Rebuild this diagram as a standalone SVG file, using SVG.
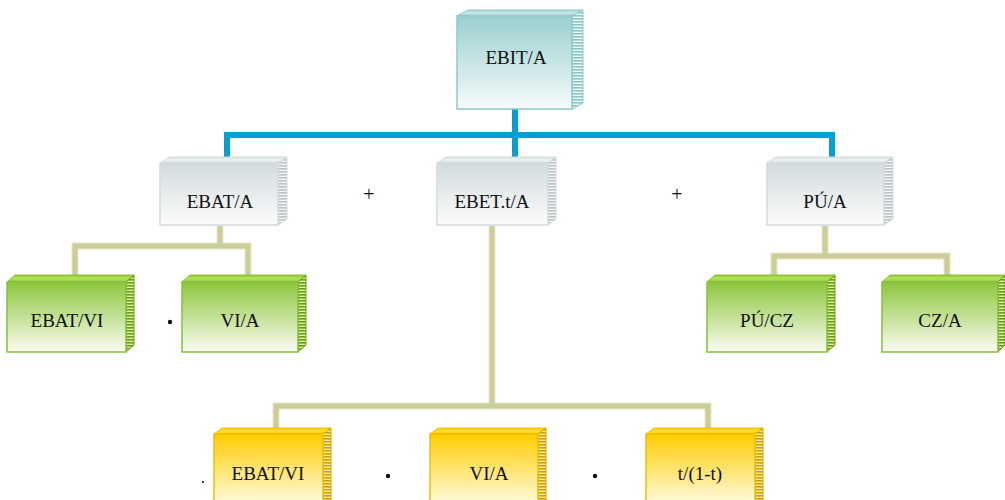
<svg xmlns="http://www.w3.org/2000/svg" width="1005" height="500" viewBox="0 0 1005 500">
<style>
text{font-family:'Liberation Serif','Times New Roman',Times,Tinos,'Nimbus Roman','Nimbus Roman No9 L',FreeSerif,'Noto Serif','DejaVu Serif',serif;font-size:19px;fill:#111;text-anchor:middle}
.op{font-size:20px}
.teal .f{fill:url(#gTeal);stroke:#8fc9c9;stroke-width:1.5}
.teal .t{fill:url(#tTeal);stroke:#8fc9c9;stroke-width:1}
.teal .s{fill:url(#pTeal);stroke:#8fc9c9;stroke-width:1}
.gray .f{fill:url(#gGray);stroke:#d3dbdd;stroke-width:1.5}
.gray .t{fill:url(#tGray);stroke:#d3dbdd;stroke-width:1}
.gray .s{fill:url(#pGray);stroke:#d3dbdd;stroke-width:1}
.green .f{fill:url(#gGreen);stroke:#86c13a;stroke-width:1.5}
.green .t{fill:url(#tGreen);stroke:#86c13a;stroke-width:1}
.green .s{fill:url(#pGreen);stroke:#6f9e1e;stroke-width:1}
.yellow .f{fill:url(#gYellow);stroke:#f0c000;stroke-width:1.5}
.yellow .t{fill:url(#tYellow);stroke:#f0c000;stroke-width:1}
.yellow .s{fill:url(#pYellow);stroke:#d4a400;stroke-width:1}
.blue{fill:none;stroke:#0a9ed2;stroke-width:6}
.khakiB{fill:none;stroke:#e6e6cc;stroke-width:7}
.khaki{fill:none;stroke:#cdcd99;stroke-width:5}
</style>
<defs>
<linearGradient id="gTeal" x1="0" y1="0" x2="0" y2="1"><stop offset="0" stop-color="#9acfcf"/><stop offset="1" stop-color="#f6fbfb"/></linearGradient>
<linearGradient id="gGray" x1="0" y1="0" x2="0" y2="1"><stop offset="0" stop-color="#d2dbdc"/><stop offset="1" stop-color="#fbfcfc"/></linearGradient>
<linearGradient id="gGreen" x1="0" y1="0" x2="0" y2="1"><stop offset="0" stop-color="#8cc63c"/><stop offset="1" stop-color="#fafcf2"/></linearGradient>
<linearGradient id="gYellow" x1="0" y1="0" x2="0" y2="1"><stop offset="0" stop-color="#ffcc00"/><stop offset="1" stop-color="#fffbe0"/></linearGradient>
<linearGradient id="tTeal" x1="0" y1="0" x2="0" y2="1"><stop offset="0" stop-color="#a6d6d6"/><stop offset="0.5" stop-color="#c8e6e6"/><stop offset="1" stop-color="#9fd2d2"/></linearGradient>
<linearGradient id="tGray" x1="0" y1="0" x2="0" y2="1"><stop offset="0" stop-color="#d8e0e1"/><stop offset="0.5" stop-color="#eef2f2"/><stop offset="1" stop-color="#d3dcdd"/></linearGradient>
<linearGradient id="tGreen" x1="0" y1="0" x2="0" y2="1"><stop offset="0" stop-color="#92cc2c"/><stop offset="0.5" stop-color="#b8e060"/><stop offset="1" stop-color="#8cc63c"/></linearGradient>
<linearGradient id="tYellow" x1="0" y1="0" x2="0" y2="1"><stop offset="0" stop-color="#ffcc00"/><stop offset="0.5" stop-color="#ffdc40"/><stop offset="1" stop-color="#ffcc00"/></linearGradient>
<pattern id="pTeal" patternUnits="userSpaceOnUse" width="4" height="3"><rect width="4" height="3" fill="#eef8f8"/><rect width="4" height="1.6" fill="#8cc4c4"/></pattern>
<pattern id="pGray" patternUnits="userSpaceOnUse" width="4" height="3"><rect width="4" height="3" fill="#f4f6f6"/><rect width="4" height="1.6" fill="#b9c2c4"/></pattern>
<pattern id="pGreen" patternUnits="userSpaceOnUse" width="4" height="3"><rect width="4" height="3" fill="#d8f0a0"/><rect width="4" height="1.6" fill="#6a9c1a"/></pattern>
<pattern id="pYellow" patternUnits="userSpaceOnUse" width="4" height="3"><rect width="4" height="3" fill="#fff0a0"/><rect width="4" height="1.6" fill="#cf9f00"/></pattern>
</defs>

<g id="connectors">
<path class="blue" d="M515,109 V135 M227,158 V135 H832 V158 M515,135 V158"/>
<path class="khakiB" d="M220,226 V246 M75,276 V246 H248 V276 M492,226 V406 M276,429 V406 H708 V429 M825,226 V256 M774,276 V256 H947 V276"/>
<path class="khaki" d="M220,226 V246 M75,276 V246 H248 V276 M492,226 V406 M276,429 V406 H708 V429 M825,226 V256 M774,276 V256 H947 V276"/>
</g>

<g id="n-ebit" class="teal">
<polygon class="t" points="457,16 468,10 583,10 572,16"/>
<polygon class="s" points="572,16 583,10 583,103 572,109"/>
<rect class="f" x="457" y="16" width="115" height="93"/>
<text x="516" y="64">EBIT/A</text>
</g>

<g id="n-ebat-a" class="gray">
<polygon class="t" points="160,163 169,157 287,157 278,163"/>
<polygon class="s" points="278,163 287,157 287,219 278,225"/>
<rect class="f" x="160" y="163" width="118" height="62"/>
<text x="220" y="208">EBAT/A</text>
</g>

<g id="n-ebet" class="gray">
<polygon class="t" points="437,163 446,157 556,157 548,163"/>
<polygon class="s" points="548,163 556,157 556,219 548,225"/>
<rect class="f" x="437" y="163" width="111" height="62"/>
<text x="492" y="208">EBET.t/A</text>
</g>

<g id="n-pu-a" class="gray">
<polygon class="t" points="767,163 776,157 893,157 884,163"/>
<polygon class="s" points="884,163 893,157 893,219 884,225"/>
<rect class="f" x="767" y="163" width="117" height="62"/>
<text x="825" y="208">PÚ/A</text>
</g>

<g id="n-ebat-vi" class="green">
<polygon class="t" points="7,282 15,275 134,275 126,282"/>
<polygon class="s" points="126,282 134,275 134,345 126,352"/>
<rect class="f" x="7" y="282" width="119" height="70"/>
<text x="67" y="327">EBAT/VI</text>
</g>

<g id="n-vi-a" class="green">
<polygon class="t" points="182,282 190,275 306,275 298,282"/>
<polygon class="s" points="298,282 306,275 306,345 298,352"/>
<rect class="f" x="182" y="282" width="116" height="70"/>
<text x="240" y="327">VI/A</text>
</g>

<g id="n-pu-cz" class="green">
<polygon class="t" points="707,282 715,275 835,275 827,282"/>
<polygon class="s" points="827,282 835,275 835,345 827,352"/>
<rect class="f" x="707" y="282" width="120" height="70"/>
<text x="767" y="327">PÚ/CZ</text>
</g>

<g id="n-cz-a" class="green">
<polygon class="t" points="882,282 890,275 1005,275 998,282"/>
<polygon class="s" points="998,282 1005,275 1005,345 998,352"/>
<rect class="f" x="882" y="282" width="116" height="70"/>
<text x="940" y="327">CZ/A</text>
</g>

<g id="n-y-ebat-vi" class="yellow">
<polygon class="t" points="214,434 222,428 331,428 323,434"/>
<polygon class="s" points="323,434 331,428 331,502 323,504"/>
<rect class="f" x="214" y="434" width="109" height="70"/>
<text x="268" y="480">EBAT/VI</text>
</g>

<g id="n-y-vi-a" class="yellow">
<polygon class="t" points="430,434 438,428 546,428 538,434"/>
<polygon class="s" points="538,434 546,428 546,502 538,504"/>
<rect class="f" x="430" y="434" width="108" height="70"/>
<text x="489" y="480">VI/A</text>
</g>

<g id="n-y-t" class="yellow">
<polygon class="t" points="646,434 654,428 763,428 755,434"/>
<polygon class="s" points="755,434 763,428 763,502 755,504"/>
<rect class="f" x="646" y="434" width="109" height="70"/>
<text x="700" y="480">t/(1-t)</text>
</g>

<g id="operators">
<text class="op" x="369" y="201">+</text>
<text class="op" x="677" y="201">+</text>
<circle cx="170" cy="322" r="2.2" fill="#111"/>
<circle cx="388" cy="476" r="2.2" fill="#111"/>
<circle cx="595" cy="476" r="2.2" fill="#111"/>
<circle cx="203" cy="482" r="1.1" fill="#111"/>
</g>
</svg>
